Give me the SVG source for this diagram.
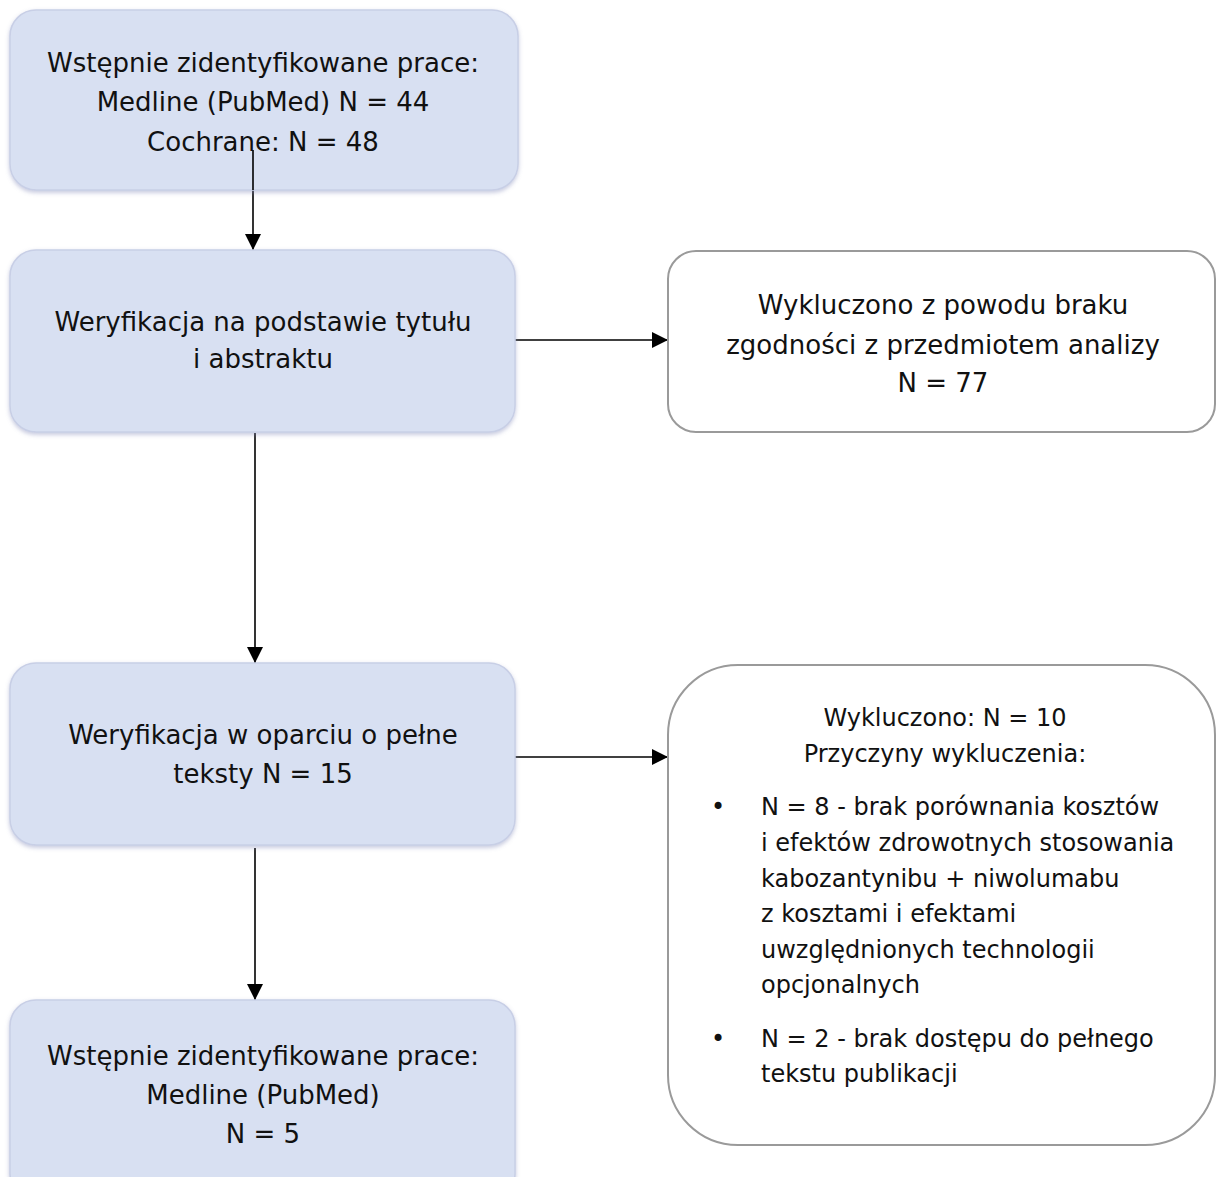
<svg xmlns="http://www.w3.org/2000/svg" width="1218" height="1177" viewBox="0 0 1218 1177">
<defs>
<marker id="arr" markerWidth="18" markerHeight="18" refX="16" refY="8" orient="auto" markerUnits="userSpaceOnUse">
<path d="M0,0 L16,8 L0,16 Z" fill="#000"/>
</marker>
<filter id="sh" x="-5%" y="-5%" width="110%" height="115%">
<feDropShadow dx="0" dy="2" stdDeviation="2" flood-color="#8088b8" flood-opacity="0.45"/>
</filter>
</defs>
<style>
.blue{fill:#d8e0f2;stroke:#c8cfe6;stroke-width:1.5}
.white{fill:#fff;stroke:#9a9a9a;stroke-width:2}
text{font-family:"DejaVu Sans","Liberation Sans",sans-serif;font-size:26px;fill:#111;text-anchor:middle}
.s{font-size:24px}
.l{text-anchor:start}
.c{stroke:#000;stroke-width:1.6;fill:none}
</style>
<rect width="1218" height="1177" fill="#fff"/>
<g id="connectors">
<line class="c" x1="253" y1="150" x2="253" y2="250" marker-end="url(#arr)"/>
<line class="c" x1="515" y1="340" x2="668" y2="340" marker-end="url(#arr)"/>
<line class="c" x1="255" y1="433" x2="255" y2="663" marker-end="url(#arr)"/>
<line class="c" x1="515" y1="757" x2="668" y2="757" marker-end="url(#arr)"/>
<line class="c" x1="255" y1="848" x2="255" y2="1000" marker-end="url(#arr)"/>
</g>
<g id="n1">
<rect class="blue" filter="url(#sh)" x="10" y="10" width="508" height="180" rx="26"/>
<text x="263" y="72">Wstępnie zidentyfikowane prace:</text>
<text x="263" y="111">Medline (PubMed) N = 44</text>
<text x="263" y="151">Cochrane: N = 48</text>
</g>
<line class="c" x1="253" y1="150" x2="253" y2="190"/>
<g id="n2">
<rect class="blue" filter="url(#sh)" x="10" y="250" width="505" height="182" rx="26"/>
<text x="263" y="331">Weryfikacja na podstawie tytułu</text>
<text x="263" y="368">i abstraktu</text>
</g>
<g id="n3">
<rect class="white" x="668" y="251" width="547" height="181" rx="28"/>
<text x="943" y="314">Wykluczono z powodu braku</text>
<text x="943" y="354">zgodności z przedmiotem analizy</text>
<text x="943" y="392">N = 77</text>
</g>
<g id="n4">
<rect class="blue" filter="url(#sh)" x="10" y="663" width="505" height="182" rx="26"/>
<text x="263" y="744">Weryfikacja w oparciu o pełne</text>
<text x="263" y="783">teksty N = 15</text>
</g>
<g id="n5">
<rect class="white" x="668" y="665" width="547" height="480" rx="70"/>
<text class="s" x="945" y="726">Wykluczono: N = 10</text>
<text class="s" x="945" y="762">Przyczyny wykluczenia:</text>
<text class="s" x="718" y="815">•</text>
<text class="s l" x="761" y="815">N = 8 - brak porównania kosztów</text>
<text class="s l" x="761" y="851">i efektów zdrowotnych stosowania</text>
<text class="s l" x="761" y="887">kabozantynibu + niwolumabu</text>
<text class="s l" x="761" y="922">z kosztami i efektami</text>
<text class="s l" x="761" y="958">uwzględnionych technologii</text>
<text class="s l" x="761" y="993">opcjonalnych</text>
<text class="s" x="718" y="1047">•</text>
<text class="s l" x="761" y="1047">N = 2 - brak dostępu do pełnego</text>
<text class="s l" x="761" y="1082">tekstu publikacji</text>
</g>
<g id="n6">
<rect class="blue" filter="url(#sh)" x="10" y="1000" width="505" height="200" rx="26"/>
<text x="263" y="1065">Wstępnie zidentyfikowane prace:</text>
<text x="263" y="1104">Medline (PubMed)</text>
<text x="263" y="1143">N = 5</text>
</g>
</svg>
